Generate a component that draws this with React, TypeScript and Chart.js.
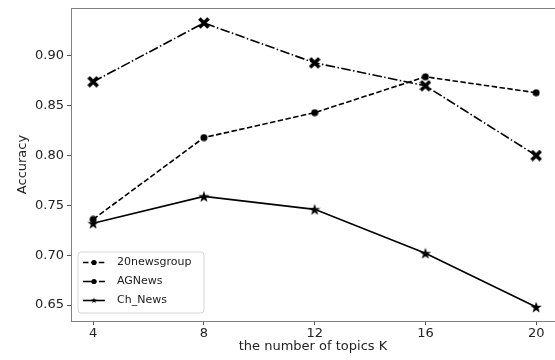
import React, { useEffect, useRef } from "react";
import { Chart, registerables } from "chart.js";
Chart.register(...registerables);

const topicsK = [4, 8, 12, 16, 20];
const news20 = [0.736, 0.818, 0.843, 0.879, 0.863];
const agNews = [0.874, 0.933, 0.893, 0.87, 0.8];
const chNews = [0.732, 0.759, 0.746, 0.702, 0.648];
const yTicks = [0.65, 0.7, 0.75, 0.8, 0.85, 0.9];
const seriesLabels = ["20newsgroup", "AGNews", "Ch_News"];

const FONT = "'DejaVu Sans', 'Liberation Sans', sans-serif";
const INK = "#000000";

function starPath(ctx: CanvasRenderingContext2D, cx: number, cy: number, r: number) {
  const ri = r * 0.4;
  ctx.beginPath();
  for (let i = 0; i < 10; i++) {
    const rr = i % 2 === 0 ? r : ri;
    const a = -Math.PI / 2 + (i * Math.PI) / 5;
    const px = cx + rr * Math.cos(a);
    const py = cy + rr * Math.sin(a);
    if (i === 0) ctx.moveTo(px, py);
    else ctx.lineTo(px, py);
  }
  ctx.closePath();
}

function makeMarker(kind: string, size: number): HTMLCanvasElement {
  const c = document.createElement("canvas");
  c.width = size;
  c.height = size;
  const ctx = c.getContext("2d")!;
  const m = size / 2;
  ctx.fillStyle = INK;
  ctx.strokeStyle = INK;
  if (kind === "circle") {
    ctx.beginPath();
    ctx.arc(m, m, m - 0.5, 0, Math.PI * 2);
    ctx.fill();
  } else if (kind === "x") {
    ctx.lineWidth = size * 0.3;
    ctx.lineCap = "butt";
    const d = size * 0.38;
    ctx.beginPath();
    ctx.moveTo(m - d, m - d);
    ctx.lineTo(m + d, m + d);
    ctx.moveTo(m + d, m - d);
    ctx.lineTo(m - d, m + d);
    ctx.stroke();
  } else if (kind === "star") {
    starPath(ctx, m, m + size * 0.05, m);
    ctx.fill();
  }
  return c;
}

function zeroPad(s: any) {
  s.paddingLeft = 0;
  s.paddingRight = 0;
  s.paddingTop = 0;
  s.paddingBottom = 0;
}

export default function App() {
  const ref = useRef<HTMLCanvasElement | null>(null);
  useEffect(() => {
    document.body.style.margin = "0";
    const canvas = ref.current!;
    const circleImg = makeMarker("circle", 8);
    const xImg = makeMarker("x", 12);
    const starImg = makeMarker("star", 12);

    const frame = {
      id: "frameAndLegend",
      afterDraw(chart: any) {
        const { ctx, chartArea } = chart;
        ctx.save();
        ctx.strokeStyle = "#808080";
        ctx.lineWidth = 1;
        ctx.beginPath();
        ctx.moveTo(chartArea.left, chartArea.top + 0.5);
        ctx.lineTo(chartArea.right, chartArea.top + 0.5);
        ctx.stroke();
        const bx = 78, by = 252, bw = 126, bh = 61, r = 3;
        ctx.beginPath();
        ctx.moveTo(bx + r, by);
        ctx.lineTo(bx + bw - r, by);
        ctx.quadraticCurveTo(bx + bw, by, bx + bw, by + r);
        ctx.lineTo(bx + bw, by + bh - r);
        ctx.quadraticCurveTo(bx + bw, by + bh, bx + bw - r, by + bh);
        ctx.lineTo(bx + r, by + bh);
        ctx.quadraticCurveTo(bx, by + bh, bx, by + bh - r);
        ctx.lineTo(bx, by + r);
        ctx.quadraticCurveTo(bx, by, bx + r, by);
        ctx.closePath();
        ctx.fillStyle = "rgba(255,255,255,0.85)";
        ctx.fill();
        ctx.strokeStyle = "#d6d6d6";
        ctx.stroke();
        const rows = [262.5, 281.5, 300.5];
        const dashes = [[5.5, 2.4], [9.6, 2.4, 1.5, 2.4], []];
        const markers = ["circle", "circle", "star"];
        rows.forEach((y, i) => {
          ctx.strokeStyle = INK;
          ctx.lineWidth = 1.6;
          ctx.setLineDash(dashes[i]);
          ctx.beginPath();
          ctx.moveTo(83, y);
          ctx.lineTo(105, y);
          ctx.stroke();
          ctx.setLineDash([]);
          ctx.fillStyle = INK;
          if (markers[i] === "circle") {
            ctx.beginPath();
            ctx.arc(94, y, 2.6, 0, Math.PI * 2);
            ctx.fill();
          } else {
            starPath(ctx, 94, y, 3);
            ctx.fill();
          }
          ctx.fillStyle = "#1a1a1a";
          ctx.font = `11px ${FONT}`;
          ctx.textBaseline = "middle";
          ctx.textAlign = "left";
          ctx.fillText(seriesLabels[i], 117, y);
        });
        ctx.restore();
      },
    };

    const mk = (arr: number[]) => topicsK.map((x, i) => ({ x, y: arr[i] }));

    const chart = new Chart(canvas, {
      type: "line",
      data: {
        datasets: [
          {
            label: seriesLabels[0],
            data: mk(news20),
            borderColor: INK,
            borderWidth: 1.6,
            borderDash: [5.5, 2.4],
            pointStyle: circleImg as any,
            pointRadius: 4,
            tension: 0,
          },
          {
            label: seriesLabels[1],
            data: mk(agNews),
            borderColor: INK,
            borderWidth: 1.6,
            borderDash: [9.6, 2.4, 1.5, 2.4],
            pointStyle: xImg as any,
            pointRadius: 6,
            tension: 0,
          },
          {
            label: seriesLabels[2],
            data: mk(chNews),
            borderColor: INK,
            borderWidth: 1.6,
            pointStyle: starImg as any,
            pointRadius: 6,
            tension: 0,
          },
        ],
      },
      options: {
        responsive: false,
        animation: false,
        layout: { autoPadding: false, padding: { top: 8, right: 0, left: 0, bottom: 0 } },
        plugins: { legend: { display: false }, tooltip: { enabled: false } },
        scales: {
          x: {
            type: "linear",
            min: 3.2,
            max: 20.68,
            afterBuildTicks: (s: any) => {
              s.ticks = topicsK.map((v) => ({ value: v }));
            },
            afterFit: (s: any) => {
              s.height = 39;
              zeroPad(s);
            },
            grid: { drawOnChartArea: false, drawTicks: true, tickLength: 4, color: "#555555" },
            border: { color: "#808080", width: 1 },
            ticks: {
              font: { size: 13, family: FONT },
              color: "#222222",
              padding: 1,
              maxRotation: 0,
              callback: (v: any) => String(v),
            },
            title: {
              display: true,
              text: "the number of topics K",
              font: { size: 13, family: FONT },
              color: "#222222",
              padding: { top: 0, bottom: 6 },
            },
          },
          y: {
            type: "linear",
            min: 0.634,
            max: 0.948,
            afterBuildTicks: (s: any) => {
              s.ticks = yTicks.map((v) => ({ value: v }));
            },
            afterFit: (s: any) => {
              s.width = 71;
              zeroPad(s);
            },
            grid: { drawOnChartArea: false, drawTicks: true, tickLength: 4, color: "#555555" },
            border: { color: "#808080", width: 1 },
            ticks: {
              font: { size: 13, family: FONT },
              color: "#222222",
              padding: 3,
              callback: (v: any) => Number(v).toFixed(2),
            },
            title: {
              display: true,
              text: "Accuracy",
              font: { size: 13, family: FONT },
              color: "#222222",
              padding: { top: 15, bottom: 0 },
            },
          },
        },
      },
      plugins: [frame],
    });
    return () => chart.destroy();
  }, []);
  return <canvas ref={ref} width={555} height={360} style={{ display: "block" }} />;
}
